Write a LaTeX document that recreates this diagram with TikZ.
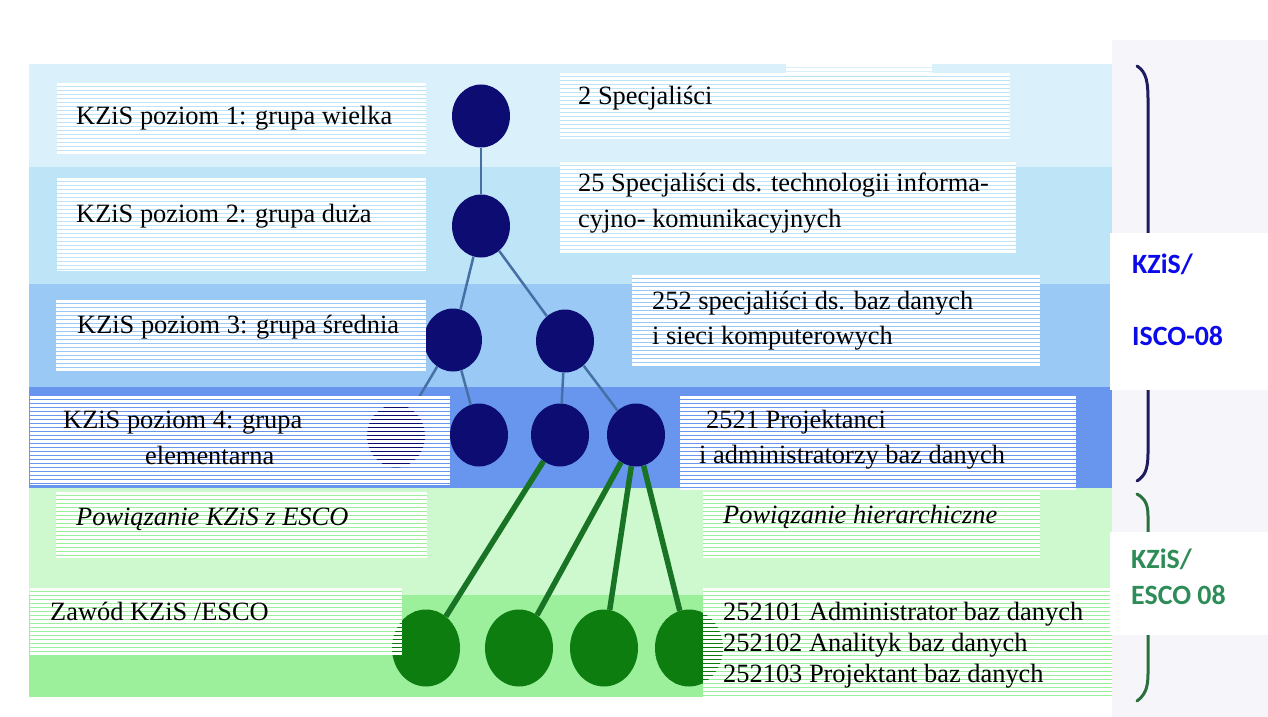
\documentclass[tikz,border=0pt]{standalone}
\usepackage{fontspec}
\setmainfont{Liberation Serif}
\newfontfamily\labfont{Carlito}
\usetikzlibrary{shapes.geometric}

\definecolor{bandA}{RGB}{218,240,251}
\definecolor{bandB}{RGB}{190,228,248}
\definecolor{bandC}{RGB}{155,201,245}
\definecolor{bandD}{RGB}{104,150,238}
\definecolor{bandE}{RGB}{206,248,206}
\definecolor{bandF}{RGB}{156,240,156}
\definecolor{navyfill}{RGB}{12,12,115}
\definecolor{treeline}{RGB}{70,112,165}
\definecolor{leaffill}{RGB}{12,125,14}
\definecolor{leafline}{RGB}{24,115,36}
\definecolor{sidebg}{RGB}{246,246,250}
\definecolor{braceblue}{RGB}{28,28,95}
\definecolor{bracegreen}{RGB}{42,112,62}
\definecolor{labblue}{RGB}{10,10,235}
\definecolor{labgreen}{RGB}{46,140,88}

% a white panel ruled with thin horizontal lines:
% #1 name, (#2,#3) top left, (#4,#5) bottom right, #6 rule colour
\newcommand\stripepanel[6]{%
  \node[anchor=north west, inner sep=0pt, draw=none, fill=white,
        minimum width={(#4-#2)*1bp}, minimum height={(#5-#3)*1bp}] (#1) at (#2,#3) {};
  \pgfmathtruncatemacro\nstrips{(#5-#3)/4-1}%
  \foreach \k in {0,...,\nstrips}{%
    \draw[#6, line width=1bp] (#2,{#3+4*\k+3.5}) -- (#4,{#3+4*\k+3.5});
  }%
}
% the rules of a panel, in another colour, over the part of a shape it hides:
% #1 top of panel, #2 bottom of panel, #3 colour, #4 clip shape
\newcommand\hiddenrules[4]{%
  \begin{scope}
    \clip #4;
    \pgfmathtruncatemacro\nstrips{(#2-#1)/4-1}%
    \foreach \k in {0,...,\nstrips}{%
      \draw[#3, line width=1.2bp] (0,{#1+4*\k+3.5}) -- (1268,{#1+4*\k+3.5});
    }%
  \end{scope}%
}

\begin{document}
\begin{tikzpicture}[x=1bp,y=-1bp,
  txt/.style={anchor=base west, inner sep=0pt, font=\fontsize{26.5}{32}\selectfont},
  itxt/.style={txt, font=\fontsize{26.5}{32}\selectfont\itshape},
  inner/.style={ellipse, fill=navyfill, draw=none, minimum width=58bp, minimum height=63bp, inner sep=0pt},
  leaf/.style={ellipse, fill=leaffill, draw=none, minimum width=68bp, minimum height=77bp, inner sep=0pt},
  treeedge/.style={draw=treeline, line width=2.5bp},
  leafedge/.style={draw=leafline, line width=5.5bp},
  labbox/.style={anchor=north west, inner sep=0pt, fill=white, draw=none},
  lab/.style={anchor=base west, inner sep=0pt, font=\labfont\bfseries\fontsize{28}{32}\selectfont},
  brace/.style={line width=3bp, line cap=round}]

\useasboundingbox (0,0) rectangle (1268,717);
\fill[white] (0,0) rectangle (1268,717);
\fill[sidebg] (1112,40) rectangle (1268,717);

% horizontal bands of the classification levels
\fill[bandA] (29,64) rectangle (1112,167);
\fill[bandB] (29,167) rectangle (1112,284);
\fill[bandC] (29,284) rectangle (1112,387);
\fill[bandD] (29,387) rectangle (1112,488);
\fill[bandE] (29,488) rectangle (1112,595);
\fill[bandF] (29,595) rectangle (1112,697);

% tree nodes
\node[inner] (n1) at (481,116) {};
\node[inner] (n2) at (481,226) {};
\node[inner] (n3a) at (453,340) {};
\node[inner] (n3b) at (565,341) {};
\node[inner] (n4a) at (396,436) {};
\node[inner] (n4b) at (479,435) {};
\node[inner] (n4c) at (560,435) {};
\node[inner] (n4d) at (636,435) {};
\node[leaf] (g1) at (426,648) {};
\node[leaf] (g2) at (519,648) {};
\node[leaf] (g3) at (604,648) {};
\node[leaf] (g4) at (689,648) {};

% tree connectors
\draw[treeedge] (n1) -- (n2);
\draw[treeedge] (n2) -- (n3a);
\draw[treeedge] (n2) -- (n3b);
\draw[treeedge] (n3a) -- (n4a);
\draw[treeedge] (n3a) -- (n4b);
\draw[treeedge] (n3b) -- (n4c);
\draw[treeedge] (n3b) -- (n4d);
\draw[leafedge] (n4c) -- (g1);
\draw[leafedge] (n4d) -- (g2);
\draw[leafedge] (n4d) -- (g3);
\draw[leafedge] (n4d) -- (g4);

% ruled text panels
\stripepanel{bl1}{57}{83}{426}{154}{bandB}
\stripepanel{bl2}{57}{178}{426}{271}{bandB}
\stripepanel{bl3}{56}{300}{426}{371}{bandC}
\stripepanel{bl4}{30}{396}{450}{485}{bandD}
\stripepanel{bl5}{56}{492}{427}{558}{bandF}
\stripepanel{bl6}{30}{588}{402}{655}{bandF}
\stripepanel{br0}{786}{64}{932}{73}{bandA}
\stripepanel{br1}{560}{73}{1010}{139}{bandB}
\stripepanel{br2}{560}{162}{1016}{254}{bandB}
\stripepanel{br3}{632}{275}{1040}{366}{bandC}
\stripepanel{br4}{680}{396}{1076}{490}{bandD}
\stripepanel{br5}{703}{492}{1040}{558}{bandF}
\stripepanel{br6}{703}{588}{1112}{697}{bandF}

% shapes seen through the rules of the panels above them
\hiddenrules{396}{485}{navyfill}{(n4a.center) ellipse [x radius=29, y radius=31.5]}
\hiddenrules{588}{655}{leaffill}{(g1.center) ellipse [x radius=34, y radius=38.5]}
\hiddenrules{588}{697}{leaffill}{(g4.center) ellipse [x radius=34, y radius=38.5]}

% level names
\node[txt] (tl1) at (76,125) {KZiS poziom 1: grupa wielka};
\node[txt] (tl2) at (76,223) {KZiS poziom 2: grupa duża};
\node[txt] (tl3) at (77,333) {KZiS poziom 3: grupa średnia};
\node[txt] (tl4a) at (63,428) {KZiS poziom 4: grupa};
\node[txt] (tl4b) at (145,464) {elementarna};
\node[itxt] (tl5) at (76,525) {Powiązanie KZiS z ESCO};
\node[txt] (tl6) at (50,620) {Zawód KZiS /ESCO};

% example codes
\node[txt] (tr1) at (578,105) {2 Specjaliści};
\node[txt] (tr2a) at (578,192) {25 Specjaliści ds. technologii informa-};
\node[txt] (tr2b) at (578,228) {cyjno- komunikacyjnych};
\node[txt] (tr3a) at (652,309) {252 specjaliści ds. baz danych};
\node[txt] (tr3b) at (652,344) {i sieci komputerowych};
\node[txt] (tr4a) at (706,428) {2521 Projektanci};
\node[txt] (tr4b) at (699,463) {i administratorzy baz danych};
\node[itxt] (tr5) at (723,523) {Powiązanie hierarchiczne};
\node[txt] (tr6a) at (723,620) {252101 Administrator baz danych};
\node[txt] (tr6b) at (723,651) {252102 Analityk baz danych};
\node[txt] (tr6c) at (723,682) {252103 Projektant baz danych};

% braces on the right
\draw[brace, braceblue] (1137,66) .. controls (1147,72) and (1148,84) .. (1148,100)
  -- (1148,453) .. controls (1148,469) and (1145,476) .. (1137,481);
\draw[brace, bracegreen] (1137,494) .. controls (1146,499) and (1148,506) .. (1148,516)
  -- (1148,674) .. controls (1148,688) and (1145,695) .. (1137,701);

% brace labels
\node[labbox, minimum width=158bp, minimum height=157bp] (lb1) at (1110,233) {};
\node[labbox, minimum width=158bp, minimum height=103bp] (lb2) at (1110,532) {};
\node[lab, text=labblue] (la1) at (1132,273) {KZiS/};
\node[lab, text=labblue] (la2) at (1132,345) {ISCO-08};
\node[lab, text=labgreen] (la3) at (1131,568) {KZiS/};
\node[lab, text=labgreen] (la4) at (1131,604) {ESCO 08};
\end{tikzpicture}
\end{document}
